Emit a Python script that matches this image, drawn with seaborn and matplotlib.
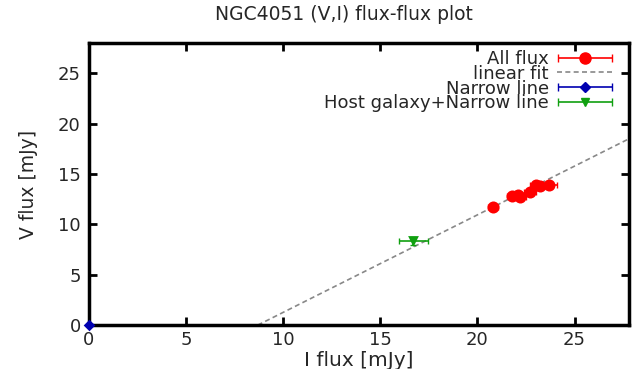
import numpy as np
import pandas as pd
import matplotlib
matplotlib.use("Agg")
import matplotlib.pyplot as plt
import seaborn as sns
from matplotlib.container import ErrorbarContainer
from matplotlib.legend_handler import HandlerErrorbar

# ---- data ----
all_I = [20.8, 21.8, 22.1, 22.2, 22.7, 23.0, 23.2, 23.7]
all_V = [11.7, 12.8, 12.9, 12.7, 13.2, 13.9, 13.8, 13.9]
all_Ierr = [0.25, 0.3, 0.3, 0.3, 0.3, 0.3, 0.3, 0.4]
all_Verr = [0.15, 0.15, 0.15, 0.15, 0.15, 0.15, 0.15, 0.15]

narrow_I = [0.0]
narrow_V = [0.0]

host_I = [16.7]
host_V = [8.3]
host_Ierr = [0.75]
host_Verr = [0.4]

fit_slope = 0.968
fit_intercept = -8.42

xticks = [0, 5, 10, 15, 20, 25]
yticks = [0, 5, 10, 15, 20, 25]

sns.set_style("ticks")
plt.rcParams['font.family'] = ['DejaVu Sans']

fig = plt.figure(figsize=(6.33, 3.69), dpi=100)
ax = fig.add_axes([0.1406, 0.1192, 0.8531, 0.7643])

red = "#ff0000"
blue = "#0000b0"
green = "#10a010"
gray = "#888888"

# linear fit
xfit = np.array([0.0, 28.0])
df_fit = pd.DataFrame({"x": xfit, "y": fit_slope * xfit + fit_intercept})
sns.lineplot(data=df_fit, x="x", y="y", ax=ax, color=gray, lw=1.2,
             linestyle=(0, (3, 2)), zorder=2)

# errorbars
ax.errorbar(all_I, all_V, xerr=all_Ierr, yerr=all_Verr, fmt="none",
            ecolor=red, elinewidth=1.2, capsize=2.5, zorder=3)
ax.errorbar(host_I, host_V, xerr=host_Ierr, yerr=host_Verr, fmt="none",
            ecolor=green, elinewidth=1.2, capsize=2.5, zorder=3)

df_all = pd.DataFrame({"I": all_I, "V": all_V})
df_nar = pd.DataFrame({"I": narrow_I, "V": narrow_V})
df_host = pd.DataFrame({"I": host_I, "V": host_V})
sns.scatterplot(data=df_all, x="I", y="V", ax=ax, color=red, marker="o",
                s=75, edgecolor=red, linewidth=0, zorder=4)
sns.scatterplot(data=df_nar, x="I", y="V", ax=ax, color=blue, marker="D",
                s=35, edgecolor=blue, linewidth=0, zorder=4, clip_on=False)
sns.scatterplot(data=df_host, x="I", y="V", ax=ax, color=green, marker="v",
                s=60, edgecolor=green, linewidth=0, zorder=4)

# legend proxies
h1 = ax.errorbar([np.nan], [np.nan], xerr=[1], fmt="o", color=red, ms=8,
                 capsize=3, elinewidth=1.2, label="All flux")
h2, = ax.plot([np.nan], [np.nan], color=gray, lw=1.2, linestyle=(0, (3, 2)),
              label="linear fit")
h3 = ax.errorbar([np.nan], [np.nan], xerr=[1], fmt="D", color=blue, ms=5,
                 capsize=3, elinewidth=1.2, label="Narrow line")
h4 = ax.errorbar([np.nan], [np.nan], xerr=[1], fmt="v", color=green, ms=6,
                 capsize=3, elinewidth=1.2, label="Host galaxy+Narrow line")
leg = ax.legend(handles=[h1, h2, h3, h4], loc="upper right", frameon=False,
                markerfirst=False, fontsize=13, handlelength=3.1,
                labelspacing=-0.18, handletextpad=0.45, borderaxespad=0.0,
                borderpad=0.0, bbox_to_anchor=(0.97, 0.975),
                handler_map={ErrorbarContainer: HandlerErrorbar(xerr_size=1.5)})

ax.set_xlim(0, 27.8)
ax.set_ylim(0, 28)
ax.set_xticks(xticks)
ax.set_yticks(yticks)
ax.tick_params(direction="in", length=6, width=2, labelsize=13, color="black",
               top=True, right=True, pad=6)
ax.tick_params(axis="x", pad=4)
for s in ax.spines.values():
    s.set_linewidth(2.5)
    s.set_color("black")
    s.set_visible(True)

ax.set_xlabel("I flux [mJy]", fontsize=14.5, labelpad=2)
ax.set_ylabel("V flux [mJy]", fontsize=13.5, labelpad=14)
fig.text(344 / 633, 1 - 14 / 369, "NGC4051 (V,I) flux-flux plot",
         fontsize=13.5, ha="center", va="center")

fig.savefig("out.png", dpi=100)
